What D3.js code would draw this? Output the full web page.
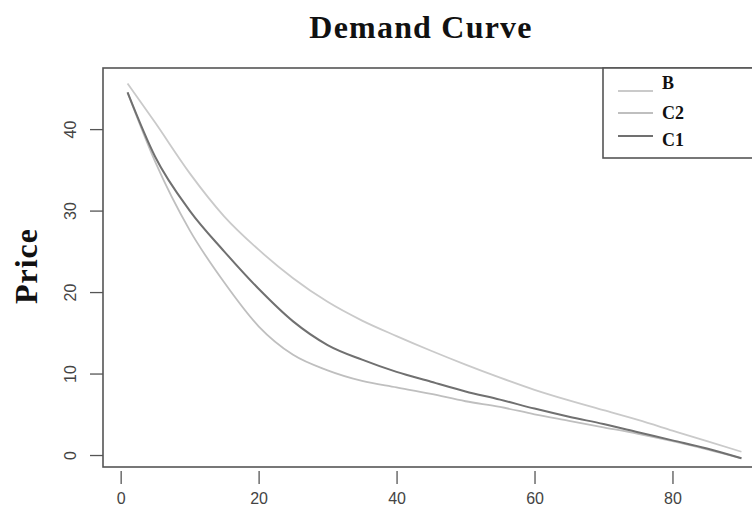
<!DOCTYPE html>
<html>
<head>
<meta charset="utf-8">
<script src="https://cdn.jsdelivr.net/npm/d3@7"></script>
<style>
  body { margin: 0; background: #fff; }
  svg { display: block; }
</style>
</head>
<body>
<svg id="chart" width="752" height="512"></svg>
<script>
// quantity values shared by every series
var quantity = [1, 5, 10, 15, 20, 25, 30, 35, 40, 45, 50, 55, 60, 65, 70, 75, 80, 85, 90]

// prices
var priceB = [45.6, 40.8, 34.6, 29.3, 25.2, 21.7, 18.8, 16.5, 14.6, 12.8, 11.1, 9.5, 8.0, 6.7, 5.5, 4.3, 3.0, 1.7, 0.4]
var priceC2 = [44.5, 36.0, 27.6, 21.2, 15.8, 12.3, 10.4, 9.1, 8.3, 7.5, 6.6, 5.9, 5.0, 4.2, 3.4, 2.6, 1.7, 0.7, -0.4]
var priceC1 = [44.5, 36.6, 30.0, 25.0, 20.4, 16.4, 13.5, 11.7, 10.2, 9.0, 7.8, 6.8, 5.7, 4.7, 3.8, 2.8, 1.8, 0.8, -0.4]

var seriesNames = ['B', 'C2', 'C1']
var seriesColors = ['#cacaca', '#bfbfbf', '#707070']
var xTicks = [0, 20, 40, 60, 80]
var yTicks = [0, 10, 20, 30, 40]

var svg = d3.select('#chart')

// plot box, its right side runs past the picture edge
var box = { left: 103, top: 68, bottom: 467, right: 766 }

var x = d3.scaleLinear().domain([-2.56, 93.56]).range([box.left, box.right])
var y = d3.scaleLinear().domain([-1.47, 47.5]).range([box.bottom, box.top])

svg.append('text')
  .attr('x', 421)
  .attr('y', 38)
  .attr('text-anchor', 'middle')
  .style('font-family', '"Liberation Serif", serif')
  .style('font-weight', 'bold')
  .style('font-size', '32px')
  .style('letter-spacing', '1.2px')
  .style('fill', '#111')
  .text('Demand Curve')

svg.append('text')
  .attr('transform', 'translate(37,266) rotate(-90)')
  .attr('text-anchor', 'middle')
  .style('font-family', '"Liberation Serif", serif')
  .style('font-weight', 'bold')
  .style('font-size', '32px')
  .style('letter-spacing', '1px')
  .style('fill', '#111')
  .text('Price')

// axes, R style: ticks outside the box
var xAxis = svg.append('g')
  .attr('transform', 'translate(0,' + (box.bottom + 4) + ')')
  .call(d3.axisBottom(x).tickValues(xTicks).tickSize(13).tickPadding(9).tickFormat(d3.format('d')))
xAxis.select('.domain').remove()

var yAxis = svg.append('g')
  .attr('transform', 'translate(' + (box.left) + ',0)')
  .call(d3.axisLeft(y).tickValues(yTicks).tickSize(13).tickPadding(9).tickFormat(d3.format('d')))
yAxis.select('.domain').remove()
// vertical labels as R draws them
yAxis.selectAll('text')
  .attr('x', 0)
  .attr('dy', 0)
  .attr('transform', 'translate(-31,0) rotate(-90)')
  .attr('text-anchor', 'middle')
  .attr('dominant-baseline', 'middle')

svg.selectAll('.tick line').attr('stroke', '#555').attr('stroke-width', 1.3)
svg.selectAll('.tick text')
  .style('font-family', '"Liberation Sans", Arial, sans-serif')
  .style('font-size', '16px')
  .style('fill', '#444')

// curves
var allSeries = [priceB, priceC2, priceC1]
var line = d3.line()
  .x(function (d) { return x(d[0]) })
  .y(function (d) { return y(d[1]) })
  .curve(d3.curveMonotoneX)

svg.append('g')
  .selectAll('path')
  .data(allSeries)
  .join('path')
  .attr('fill', 'none')
  .attr('stroke', function (d, i) { return seriesColors[i] })
  .attr('stroke-width', function (d, i) { return i === 2 ? 2 : 1.8 })
  .attr('d', function (d) { return line(d.map(function (v, j) { return [quantity[j], v] })) })

svg.append('rect')
  .attr('x', box.left)
  .attr('y', box.top)
  .attr('width', box.right - box.left)
  .attr('height', box.bottom - box.top)
  .attr('fill', 'none')
  .attr('stroke', '#555')
  .attr('stroke-width', 1.6)

// legend, top right, cut by the picture edge as well
var legend = svg.append('g')
legend.append('rect')
  .attr('x', 603).attr('y', box.top)
  .attr('width', 170).attr('height', 90)
  .attr('fill', '#fff')
  .attr('stroke', '#555')
  .attr('stroke-width', 1.6)

var legendLineY = [91, 113, 136]
var legendTextY = [83, 113, 140]
seriesNames.forEach(function (name, i) {
  legend.append('line')
    .attr('x1', 618).attr('x2', 653)
    .attr('y1', legendLineY[i]).attr('y2', legendLineY[i])
    .attr('stroke', seriesColors[i])
    .attr('stroke-width', 2)
  legend.append('text')
    .attr('x', 662)
    .attr('y', legendTextY[i])
    .attr('dy', '0.35em')
    .style('font-family', '"Liberation Serif", serif')
    .style('font-weight', 'bold')
    .style('font-size', '18px')
    .style('fill', '#111')
    .text(name)
})
</script>
</body>
</html>
